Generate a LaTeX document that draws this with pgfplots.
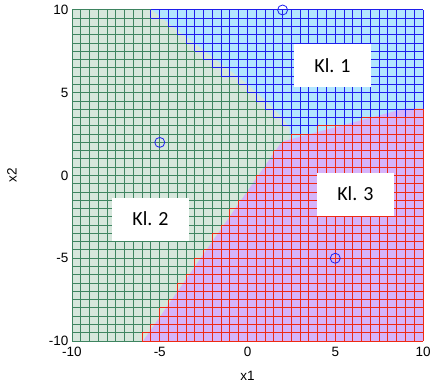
\documentclass[border=0pt]{standalone}
\usepackage{pgfplots}
\pgfplotsset{compat=1.18}
\usepackage{fontspec}
\setmainfont{Liberation Sans}
\newfontfamily\calibri{Carlito}
\definecolor{gline}{RGB}{62,132,96}
\definecolor{bline}{RGB}{30,30,235}
\definecolor{rline}{RGB}{238,42,20}
\definecolor{gfill}{RGB}{213,230,219}
\definecolor{bfill}{RGB}{178,230,255}
\definecolor{pfill}{RGB}{214,180,250}
\definecolor{circ}{RGB}{30,30,240}
\begin{document}
\begin{tikzpicture}
\begin{axis}[
  set layers, clip=false,
  width=351pt, height=331pt, scale only axis,
  xmin=-10, xmax=10, ymin=-10, ymax=10,
  xtick={-10,-5,0,5,10}, ytick={-10,-5,0,5,10},
  xticklabels={-10,-5,0,5,10}, yticklabels={-10,-5,0,5,10},
  minor x tick num=9, minor y tick num=9,
  grid=both,
  major grid style={draw=gline, line width=1.0pt},
  minor grid style={draw=gline, line width=1.0pt},
  major tick length=0pt, minor tick length=0pt,
  axis line style={draw=none},
  tick label style={font=\fontsize{13.5}{15}\selectfont},
  xticklabel style={yshift=-3pt},
  label style={font=\fontsize{13.5}{15}\selectfont},
  xlabel={x1}, ylabel={x2},
  xlabel style={at={(axis description cs:0.5,-0.106)}, anchor=center},
  ylabel style={at={(axis description cs:-0.171,0.5)}, anchor=center},
  unbounded coords=jump,
]
% region fills
\addplot[on layer=axis background, fill=gfill, draw=none] coordinates {(-10,-10)(10,-10)(10,10)(-10,10)} -- cycle;
\addplot[on layer=axis background, fill=bfill, draw=none] coordinates {(-5.46,10)(10,10)(10,2)(2.4,2)(2.4,2.9)(1.95,3.55)(1.0,4.56)(-0.05,5.57)} -- cycle;
\addplot[on layer=axis background, fill=pfill, draw=none] coordinates {(-5.95,-10)(10,-10)(10,4.06)(9.0,4.06)(1.95,2.04)} -- cycle;
% class 1 cell edges (blue)
\addplot[bline, line width=1.0pt] coordinates {
(-5.5,10)(10,10) (nan,nan) (-5.5,9.5)(10,9.5) (nan,nan) (-4.5,9)(10,9) (nan,nan)
(-4,8.5)(10,8.5) (nan,nan) (-3.5,8)(10,8) (nan,nan) (-3,7.5)(10,7.5) (nan,nan)
(-2.5,7)(10,7) (nan,nan) (-2,6.5)(10,6.5) (nan,nan) (-1.5,6)(10,6) (nan,nan)
(-0.5,5.5)(10,5.5) (nan,nan) (0,5)(10,5) (nan,nan) (0.5,4.5)(10,4.5) (nan,nan)
(1,4)(10,4) (nan,nan) (1.5,3.5)(9.5,3.5) (nan,nan) (2,3)(6.5,3) (nan,nan) (2.5,2.5)(4,2.5) (nan,nan)
(-5.5,9.5)(-5.5,10) (nan,nan) (-5,9.5)(-5,10) (nan,nan) (-4.5,9)(-4.5,10) (nan,nan)
(-4,8.5)(-4,10) (nan,nan) (-3.5,8)(-3.5,10) (nan,nan) (-3,7.5)(-3,10) (nan,nan)
(-2.5,7)(-2.5,10) (nan,nan) (-2,6.5)(-2,10) (nan,nan) (-1.5,6)(-1.5,10) (nan,nan)
(-1,6)(-1,10) (nan,nan) (-0.5,5.5)(-0.5,10) (nan,nan) (0,5)(0,10) (nan,nan)
(0.5,4.5)(0.5,10) (nan,nan) (1,4)(1,10) (nan,nan) (1.5,3.5)(1.5,10) (nan,nan)
(2,3)(2,10) (nan,nan) (2.5,2.5)(2.5,10) (nan,nan) (3,2.5)(3,10) (nan,nan)
(3.5,2.5)(3.5,10) (nan,nan) (4,2.5)(4,10) (nan,nan) (4.5,3)(4.5,10) (nan,nan)
(5,3)(5,10) (nan,nan) (5.5,3)(5.5,10) (nan,nan) (6,3)(6,10) (nan,nan)
(6.5,3)(6.5,10) (nan,nan) (7,3.5)(7,10) (nan,nan) (7.5,3.5)(7.5,10) (nan,nan)
(8,3.5)(8,10) (nan,nan) (8.5,3.5)(8.5,10) (nan,nan) (9,3.5)(9,10) (nan,nan)
(9.5,3.5)(9.5,10) (nan,nan) (10,4)(10,10)
};
% class 3 cell edges (red)
\addplot[rline, line width=1.0pt] coordinates {
(9.5,4)(10,4) (nan,nan) (6.5,3.5)(10,3.5) (nan,nan) (4,3)(10,3) (nan,nan)
(2.5,2.5)(10,2.5) (nan,nan) (2,2)(10,2) (nan,nan) (1.5,1.5)(10,1.5) (nan,nan)
(1.5,1)(10,1) (nan,nan) (1,0.5)(10,0.5) (nan,nan) (0.5,0)(10,0) (nan,nan)
(0.5,-0.5)(10,-0.5) (nan,nan) (0,-1)(10,-1) (nan,nan) (-0.5,-1.5)(10,-1.5) (nan,nan)
(-1,-2)(10,-2) (nan,nan) (-1,-2.5)(10,-2.5) (nan,nan) (-1.5,-3)(10,-3) (nan,nan)
(-2,-3.5)(10,-3.5) (nan,nan) (-2,-4)(10,-4) (nan,nan) (-2.5,-4.5)(10,-4.5) (nan,nan)
(-3,-5)(10,-5) (nan,nan) (-3,-5.5)(10,-5.5) (nan,nan) (-3.5,-6)(10,-6) (nan,nan)
(-4,-6.5)(10,-6.5) (nan,nan) (-4,-7)(10,-7) (nan,nan) (-4.5,-7.5)(10,-7.5) (nan,nan)
(-5,-8)(10,-8) (nan,nan) (-5,-8.5)(10,-8.5) (nan,nan) (-5.5,-9)(10,-9) (nan,nan)
(-6,-9.5)(10,-9.5) (nan,nan) (-6,-10)(10,-10) (nan,nan)
(-6,-10)(-6,-9.5) (nan,nan) (-5.5,-10)(-5.5,-9) (nan,nan) (-5,-10)(-5,-8) (nan,nan)
(-4.5,-10)(-4.5,-7.5) (nan,nan) (-4,-10)(-4,-6.5) (nan,nan) (-3.5,-10)(-3.5,-6) (nan,nan)
(-3,-10)(-3,-5) (nan,nan) (-2.5,-10)(-2.5,-4.5) (nan,nan) (-2,-10)(-2,-3.5) (nan,nan)
(-1.5,-10)(-1.5,-3) (nan,nan) (-1,-10)(-1,-2) (nan,nan) (-0.5,-10)(-0.5,-1.5) (nan,nan)
(0,-10)(0,-1) (nan,nan) (0.5,-10)(0.5,0) (nan,nan) (1,-10)(1,0.5) (nan,nan)
(1.5,-10)(1.5,1.5) (nan,nan) (2,-10)(2,2) (nan,nan) (2.5,-10)(2.5,2.5) (nan,nan)
(3,-10)(3,2.5) (nan,nan) (3.5,-10)(3.5,2.5) (nan,nan) (4,-10)(4,3) (nan,nan)
(4.5,-10)(4.5,3) (nan,nan) (5,-10)(5,3) (nan,nan) (5.5,-10)(5.5,3) (nan,nan)
(6,-10)(6,3) (nan,nan) (6.5,-10)(6.5,3.5) (nan,nan) (7,-10)(7,3.5) (nan,nan)
(7.5,-10)(7.5,3.5) (nan,nan) (8,-10)(8,3.5) (nan,nan) (8.5,-10)(8.5,3.5) (nan,nan)
(9,-10)(9,3.5) (nan,nan) (9.5,-10)(9.5,4) (nan,nan) (10,-10)(10,4)
};
% class centres
\addplot[only marks, mark=o, mark size=5pt, circ, mark options={line width=0.8pt}] coordinates {(2,10)(-5,2)(5,-5)};
% labels
\node[fill=white, inner sep=0pt, minimum width=77pt, minimum height=43pt, font=\calibri\fontsize{20}{22}\selectfont] at (axis cs:4.84,6.65) {Kl. 1};
\node[fill=white, inner sep=0pt, minimum width=77pt, minimum height=43pt, font=\calibri\fontsize{20}{22}\selectfont] at (axis cs:-5.53,-2.63) {Kl. 2};
\node[fill=white, inner sep=0pt, minimum width=77pt, minimum height=43pt, font=\calibri\fontsize{20}{22}\selectfont] at (axis cs:6.15,-1.12) {Kl. 3};
\coordinate (sw) at (rel axis cs:0,0);
\coordinate (ne) at (rel axis cs:1,1);
\end{axis}
\pgfresetboundingbox
\path[use as bounding box] ([shift={(-72pt,-42pt)}]sw) rectangle ([shift={(17pt,10pt)}]ne);
\end{tikzpicture}
\end{document}
